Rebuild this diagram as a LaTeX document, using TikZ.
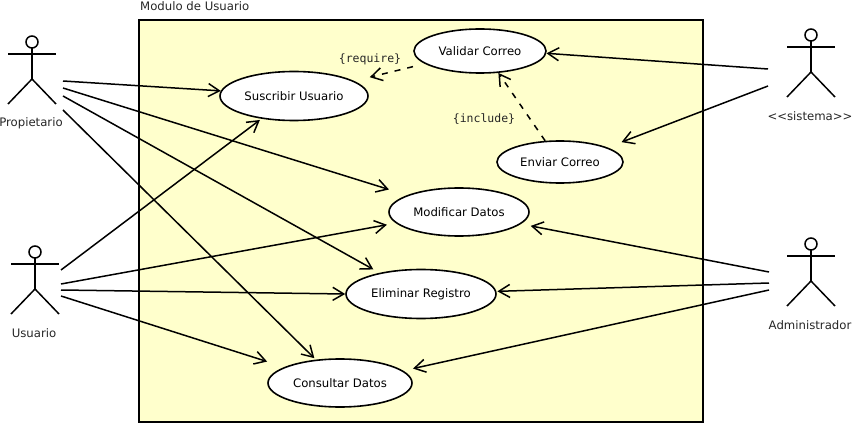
\documentclass[tikz,border=0pt]{standalone}
\usepackage{fontspec}
\setmainfont{DejaVu Sans}
\setmonofont{DejaVu Sans Mono}
\usetikzlibrary{arrows.meta,shapes.geometric}
\definecolor{boxfill}{HTML}{FFFFCC}
\tikzset{
  >={Straight Barb[length=11pt,width=13pt,line width=1.5pt]},
  usecase/.style={ellipse,draw,line width=1.6pt,fill=white,inner sep=0pt,
                  font=\fontsize{11.7}{14}\selectfont},
  lbl/.style={font=\fontsize{11.7}{14}\selectfont,text=black!85,inner sep=0pt},
  stereo/.style={font=\fontsize{11.5}{14}\selectfont\ttfamily,text=black!85,inner sep=0pt},
  arr/.style={->,line width=1.5pt},
  darr/.style={->,line width=1.5pt,dash pattern=on 6pt off 7pt},
  actor/.pic={
    \draw[line width=1.5pt] (0,0) circle (6);
    \draw[line width=1.5pt] (-24,12) -- (24,12);
    \draw[line width=1.5pt] (0,6) -- (0,37);
    \draw[line width=1.5pt] (-24,62) -- (0,37) -- (24,62);
  },
}

\begin{document}
\begin{tikzpicture}[x=1pt,y=-1pt,every edge/.style={draw,arr}]
    \useasboundingbox (0,0) rectangle (855,425);

    \node[draw,line width=1.6pt,fill=boxfill,inner sep=0pt,
          minimum width=564pt,minimum height=402pt] (MODULO) at (421,221) {};
    \node[lbl,anchor=west] (TITULO) at (140,6) {Modulo de Usuario};

    % casos de uso
    \node[usecase,minimum width=148pt,minimum height=49pt] (SUSC) at (294,96)  {Suscribir Usuario};
    \node[usecase,minimum width=132pt,minimum height=44pt] (VALI) at (480,51)  {Validar Correo};
    \node[usecase,minimum width=126pt,minimum height=42pt] (ENVI) at (560,162) {Enviar Correo};
    \node[usecase,minimum width=140pt,minimum height=48pt] (MODI) at (459,212) {Modificar Datos};
    \node[usecase,minimum width=150pt,minimum height=49pt] (ELIM) at (421,294) {Eliminar Registro};
    \node[usecase,minimum width=144pt,minimum height=48pt] (CONS) at (340,383) {Consultar Datos};

    % actores
    \pic (PROP) at (32,42)   {actor};
    \pic (USUA) at (35,252)  {actor};
    \pic (SIST) at (811,35)  {actor};
    \pic (ADMI) at (811,244) {actor};
    \node[lbl] (PROPL) at (31,123)  {Propietario};
    \node[lbl] (USUAL) at (34,333)  {Usuario};
    \node[lbl] (SISTL) at (810,116) {<{}<sistema>{}>};
    \node[lbl] (ADMIL) at (810,325) {Administrador};

    \coordinate (P1) at (63,81);
    \coordinate (P2) at (63,88);
    \coordinate (P3) at (63,96);
    \coordinate (P4) at (63,110);
    \coordinate (U1) at (61,270);
    \coordinate (U2) at (61,284);
    \coordinate (U3) at (61,290);
    \coordinate (U4) at (61,296);
    \coordinate (S1) at (768,69);
    \coordinate (S2) at (768,86);
    \coordinate (A1) at (769,272);
    \coordinate (A2) at (769,283);
    \coordinate (A3) at (769,290);

    \path (P1) edge (SUSC.176);
    \path (P2) edge[shorten >=19pt] (MODI.162.5);
    \path (P3) edge[shorten >=7pt] (ELIM.153.3);
    \path (P4) edge[shorten >=2pt] (CONS.136.2);
    \path (U1) edge[shorten >=2pt] (SUSC.215.4);
    \path (U2) edge[shorten >=9pt] (MODI.190.4);
    \path (U3) edge (ELIM.west);
    \path (U4) edge[shorten >=18pt] (CONS.164.2);
    \path (S1) edge (VALI.-2);
    \path (S2) edge[shorten >=15pt] (ENVI.17.7);
    \path (A1) edge[shorten >=10pt] (MODI.-11.4);
    \path (A2) edge[shorten >=1pt] (ELIM.2);
    \path (A3) edge[shorten >=10pt] (CONS.11.9);
    \path (VALI.193.9) edge[darr,shorten <=12pt,shorten >=16pt] (SUSC.14);
    \path (ENVI.125.5) edge[darr] (VALI.-50.7);

    \node[stereo] (REQ) at (370,59)  {\{require\}};
    \node[stereo] (INC) at (484,119) {\{include\}};
\end{tikzpicture}
\end{document}
